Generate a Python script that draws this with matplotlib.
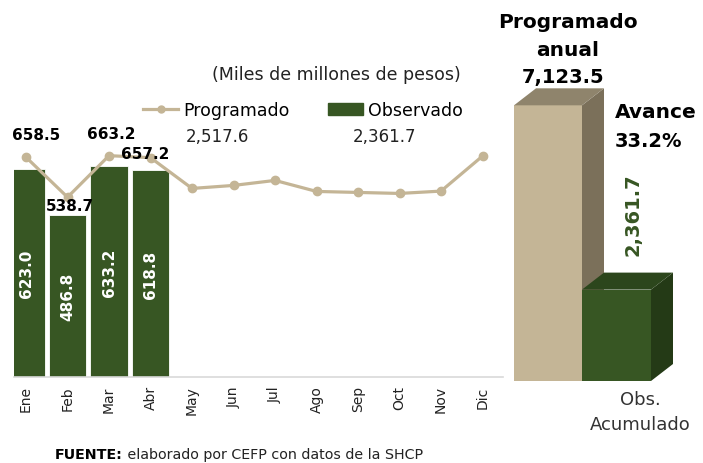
import numpy as np
import matplotlib.pyplot as plt
from matplotlib.patches import Polygon, Patch
from matplotlib.lines import Line2D

plt.rcParams['font.family'] = ['DejaVu Sans']

meses = ['Ene', 'Feb', 'Mar', 'Abr', 'May', 'Jun', 'Jul', 'Ago', 'Sep', 'Oct', 'Nov', 'Dic']
programado = [658.5, 538.7, 663.2, 657.2, 565.0, 574.0, 589.0, 556.0, 553.0, 550.0, 557.0, 661.9]
observado = [623.0, 486.8, 633.2, 618.8]
prog_acum = '2,517.6'
obs_acum = '2,361.7'
prog_anual = 7123.5
obs_total = 2361.7
avance = '33.2%'

# offsets (px) of the line value labels
lbl_off = [(10, 23), (2, -8), (2, 22), (-5, 4)]

c_green = '#375623'
c_tan = '#C4B596'

W, H = 703, 464
fig = plt.figure(figsize=(W / 100, H / 100), dpi=100)

def px_box(x0, y0, x1, y1):
	# pixel box (top-left origin) to figure fraction
	return [x0 / W, 1 - y1 / H, (x1 - x0) / W, (y1 - y0) / H]

# ---- monthly chart
ax = fig.add_axes(px_box(14, 111, 503.25, 378))
x = np.arange(len(meses))
bars = ax.bar(x[:len(observado)], observado, width=0.9, color=c_green, edgecolor='white', linewidth=0.6, zorder=2)
ax.plot(x, programado, color=c_tan, lw=2.3, marker='o', ms=6, zorder=3)
ax.set_xlim(-0.29, 11.5)
ax.set_ylim(0, 800)
for s in ['top', 'right', 'left']:
	ax.spines[s].set_visible(False)
ax.spines['bottom'].set_color('#D9D9D9')
ax.spines['bottom'].set_linewidth(1.2)
ax.set_yticks([])
ax.set_xticks(x)
ax.set_xticklabels(meses, rotation=90, fontsize=10, color='#222222')
ax.tick_params(axis='x', length=0, pad=6)

for b, v in zip(bars, observado):
	ax.text(b.get_x() + b.get_width() / 2, v / 2, f'{v:.1f}', rotation=90, ha='center', va='center',
		color='white', fontsize=11, fontweight='bold')

for i, (dx, dy) in enumerate(lbl_off):
	ax.annotate(f'{programado[i]:.1f}', (x[i], programado[i]), xytext=(dx, dy), textcoords='offset pixels',
		ha='center', va='center', fontsize=11, fontweight='bold', color='black', zorder=4, annotation_clip=False)

fig.text(336 / W, 1 - 75 / H, '(Miles de millones de pesos)', ha='center', va='center', fontsize=12.5, color='#222222')

handles = [Line2D([], [], color=c_tan, lw=2.3, marker='o', ms=5), Patch(color=c_green)]
fig.legend(handles, ['Programado', 'Observado'], loc='center', bbox_to_anchor=(303 / W, 1 - 111 / H), ncol=2,
	frameon=False, fontsize=12.5, handlelength=2.0, columnspacing=2.2, handletextpad=0.3)
fig.text(217 / W, 1 - 137 / H, prog_acum, ha='center', va='center', fontsize=12, color='#222222')
fig.text(385 / W, 1 - 137 / H, obs_acum, ha='center', va='center', fontsize=12, color='#222222')

# ---- annual 3D-like bars
ax2 = fig.add_axes(px_box(500, 40, 700, 382))
ymax = 342 / 0.0387
ax2.set_xlim(0, 1)
ax2.set_ylim(0, ymax)
ax2.axis('off')
dxd, dyd = 0.11, 17 / 0.0387

def bar3d(x0, x1, h, front, side, top):
	ax2.add_patch(Polygon([(x0, 0), (x1, 0), (x1, h), (x0, h)], closed=True, fc=front, ec='none'))
	ax2.add_patch(Polygon([(x1, 0), (x1 + dxd, dyd), (x1 + dxd, h + dyd), (x1, h)], closed=True, fc=side, ec='none'))
	ax2.add_patch(Polygon([(x0, h), (x1, h), (x1 + dxd, h + dyd), (x0 + dxd, h + dyd)], closed=True, fc=top, ec='none'))

bar3d(0.07, 0.41, prog_anual, c_tan, '#7B705A', '#8F846C')
bar3d(0.41, 0.755, obs_total, c_green, '#243A16', '#2C461C')

fig.text(568 / W, 1 - 22 / H, 'Programado', ha='center', va='center', fontsize=14.5, fontweight='bold')
fig.text(568 / W, 1 - 50 / H, 'anual', ha='center', va='center', fontsize=14.5, fontweight='bold')
fig.text(563 / W, 1 - 77 / H, f'{prog_anual:,.1f}', ha='center', va='center', fontsize=14, fontweight='bold')
fig.text(656 / W, 1 - 113 / H, 'Avance', ha='center', va='center', fontsize=14.5, fontweight='bold')
fig.text(648 / W, 1 - 142 / H, avance, ha='center', va='center', fontsize=14, fontweight='bold')
fig.text(633 / W, 1 - 215 / H, f'{obs_total:,.1f}', rotation=90, ha='center', va='center', fontsize=14,
	fontweight='bold', color=c_green)
fig.text(640 / W, 1 - 400 / H, 'Obs.', ha='center', va='center', fontsize=13, color='#333333')
fig.text(640 / W, 1 - 425 / H, 'Acumulado', ha='center', va='center', fontsize=13, color='#333333')

# ---- source
t1 = fig.text(55 / W, 1 - 455 / H, 'FUENTE:', ha='left', va='center', fontsize=10.3, fontweight='bold')
ax.annotate(' elaborado por CEFP con datos de la SHCP', xy=(1, 0.5), xycoords=t1, ha='left', va='center',
	fontsize=10.3, color='#222222')

fig.savefig('out.png', dpi=100)
